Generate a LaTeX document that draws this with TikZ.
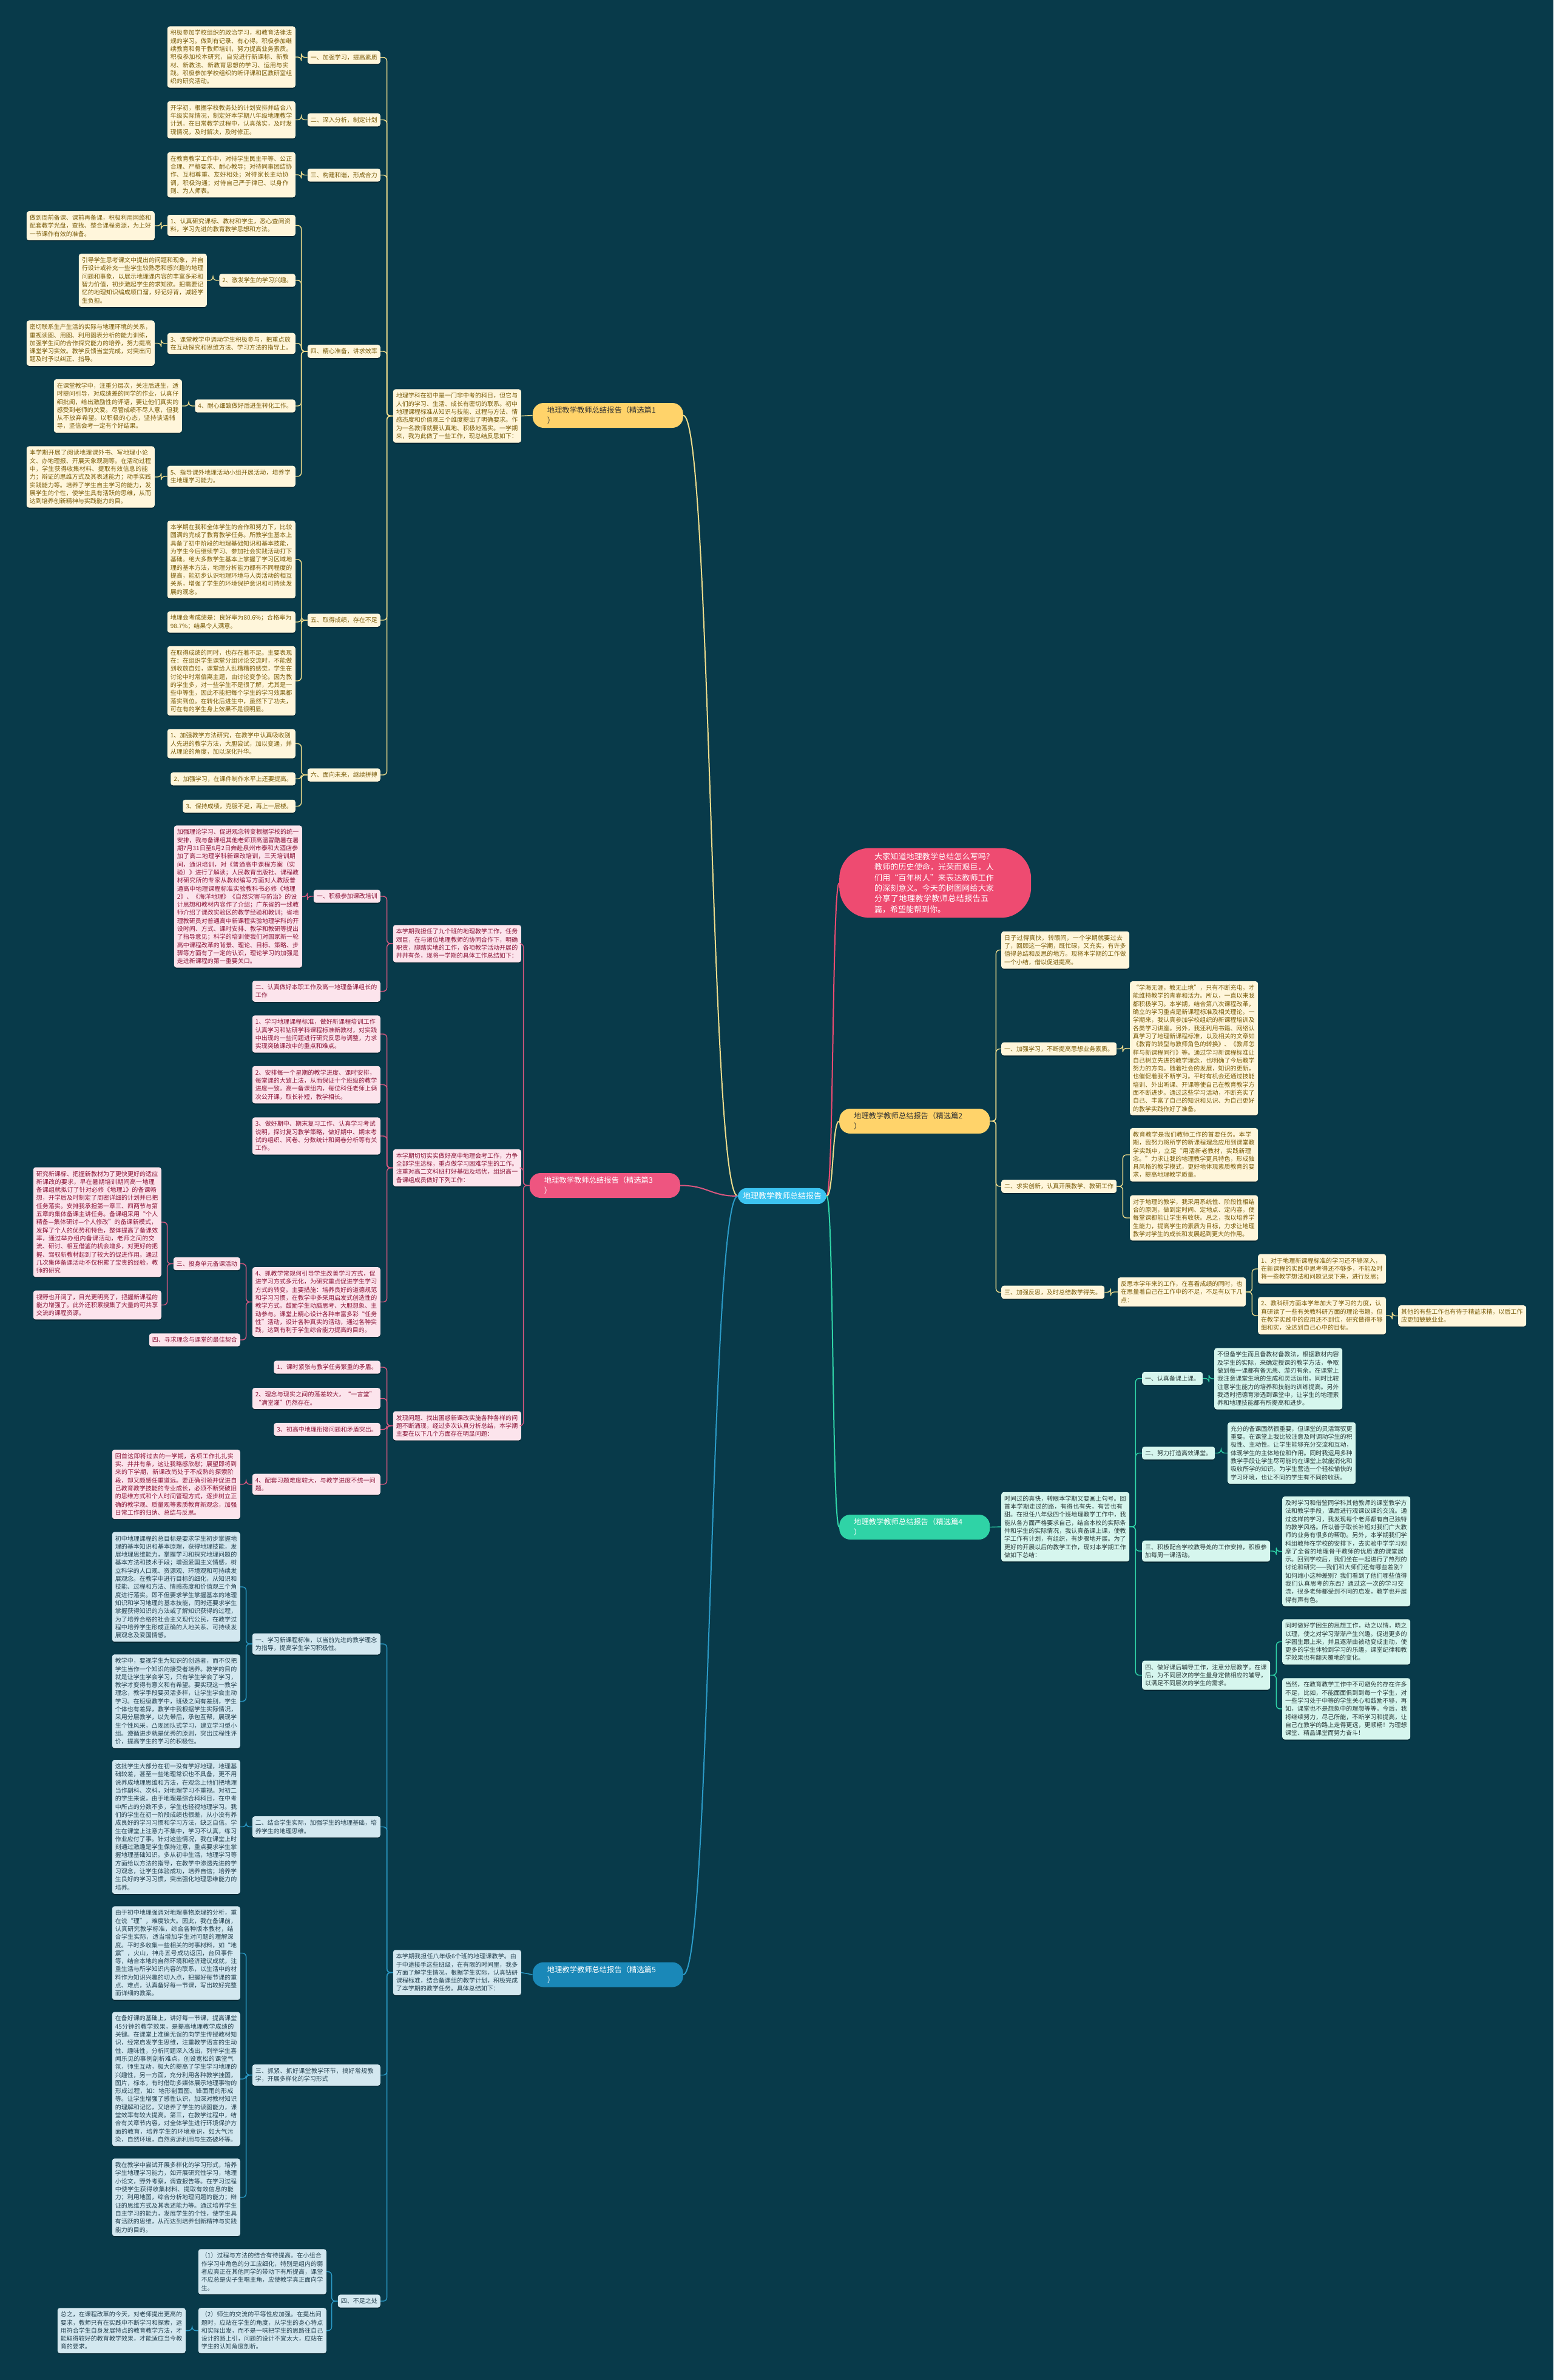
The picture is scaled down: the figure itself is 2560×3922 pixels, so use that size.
\documentclass[tikz,border=0pt]{standalone}
\usepackage{fontspec}
\setmainfont{Noto Sans CJK SC}
\usetikzlibrary{shadows}
\XeTeXlinebreaklocale "zh"
\XeTeXlinebreakskip=0pt plus 1pt
\definecolor{bgc}{HTML}{083A4A}
\definecolor{ycream}{HTML}{FFF6DB}
\definecolor{ytext}{HTML}{7A5C0A}
\definecolor{yline}{HTML}{EEDC8C}
\definecolor{pcream}{HTML}{FCE4EC}
\definecolor{ptext}{HTML}{8B1538}
\definecolor{pline}{HTML}{D9577F}
\definecolor{bcream}{HTML}{D3E8F0}
\definecolor{btext}{HTML}{24404F}
\definecolor{bline}{HTML}{2B9BC8}
\definecolor{gcream}{HTML}{D6F6EE}
\definecolor{gtext}{HTML}{2B3B3B}
\definecolor{gline}{HTML}{30D5A8}
\definecolor{byel}{HTML}{FFD36A}
\definecolor{bpink}{HTML}{EE5580}
\definecolor{bgreen}{HTML}{2FD3A6}
\definecolor{bblue}{HTML}{1A88B8}
\definecolor{bcen}{HTML}{3CC3F0}
\definecolor{bred}{HTML}{EE4B71}
\newcommand{\fsA}{\fontsize{10}{13.3}\selectfont}
\newcommand{\fsB}{\fontsize{12.3}{17.3}\selectfont}
\newcommand{\fsC}{\fontsize{13}{17.3}\selectfont}
\newcommand{\lconn}[3]{\draw[#1] (#2.west) -- ++(-10,0) |- (#3.east);}
\newcommand{\rconn}[3]{\draw[#1] (#2.east) -- ++(10,0) |- (#3.west);}
\tikzset{
 base/.style={rounded corners=4pt, inner xsep=5pt, inner ysep=6pt, align=left, font=\fsA,
   drop shadow={shadow xshift=0pt, shadow yshift=-1.5pt, opacity=0.35, fill=black}},
 yb/.style={base, fill=ycream, text=ytext},
 pb/.style={base, fill=pcream, text=ptext},
 gb/.style={base, fill=gcream, text=gtext},
 bb/.style={base, fill=bcream, text=btext},
 tw/.style={text width=201pt},
 bra/.style={rounded corners=18pt, inner xsep=24pt, inner ysep=6pt, align=left, font=\fsB, text width=200pt},
 ycon/.style={draw=yline, line width=1.4pt, rounded corners=6pt},
 pcon/.style={draw=pline, line width=1.4pt, rounded corners=6pt},
 bcon/.style={draw=bline, line width=1.4pt, rounded corners=6pt},
 gcon/.style={draw=gline, line width=1.4pt, rounded corners=6pt},
 mcurve/.style={line width=2pt},
}
\begin{document}
\begin{tikzpicture}[x=1pt,y=-1pt]
\fill[bgc] (0,0) rectangle (2560,3922);
\useasboundingbox (0,0) rectangle (2560,3922);

% ---------- center ----------
\node[fill=bcen, text=white, rounded corners=14pt, inner xsep=8pt, inner ysep=7pt, font=\fsC] (c) at (1289,1971) {地理教学教师总结报告};

% ---------- intro pill ----------
\node[fill=bred, text=white, rounded corners=50pt, inner xsep=58pt, inner ysep=8pt, font=\fsC, text width=200pt, align=left, anchor=west] (intro) at (1383,1455) {大家知道地理教学总结怎么写吗？教师的历史使命，光荣而艰巨，人们用“百年树人”来表达教师工作的深刻意义。今天的树图网给大家分享了地理教学教师总结报告五篇，希望能帮到你。};

% ---------- branch nodes ----------
\node[bra, fill=byel, text=black!80, anchor=east] (b1) at (1126,684.5) {地理教学教师总结报告（精选篇1\\）};
\node[bra, fill=byel, text=black!80, anchor=west] (b2) at (1383,1847.5) {地理教学教师总结报告（精选篇2\\）};
\node[bra, fill=bpink, text=white, anchor=east] (b3) at (1121,1953.5) {地理教学教师总结报告（精选篇3\\）};
\node[bra, fill=bgreen, text=white, anchor=west] (b4) at (1383,2516.5) {地理教学教师总结报告（精选篇4\\）};
\node[bra, fill=bblue, text=white, anchor=east] (b5) at (1126,3254) {地理教学教师总结报告（精选篇5\\）};

\draw[mcurve, draw=yline] (b1.east) .. controls +(46,0) and +(-46,0) .. (c.west);
\draw[mcurve, draw=pline] (b3.east) .. controls +(46,0) and +(-46,0) .. (c.west);
\draw[mcurve, draw=bline] (b5.east) .. controls +(46,0) and +(-46,0) .. (c.west);
\draw[mcurve, draw=bred] (c.east) .. controls +(12,0) and +(-12,0) .. (intro.west);
\draw[mcurve, draw=yline] (c.east) .. controls +(12,0) and +(-12,0) .. (b2.west);
\draw[mcurve, draw=gline] (c.east) .. controls +(12,0) and +(-12,0) .. (b4.west);

% =============== Section 1 ===============
\node[yb,tw,anchor=east] (s1i) at (859,685.5) {地理学科在初中是一门非中考的科目，但它与人们的学习、生活、成长有密切的联系。初中地理课程标准从知识与技能、过程与方法、情感态度和价值观三个维度提出了明确要求。作为一名教师就要认真地、积极地落实。一学期来，我为此做了一些工作，现总结反思如下：};
\draw[ycon] (b1.west) -- (s1i.east);

\node[yb,anchor=east] (h1) at (627,94.5) {一、加强学习，提高素质};
\node[yb,anchor=east] (h2) at (627,197.5) {二、深入分析，制定计划};
\node[yb,anchor=east] (h3) at (627,288.5) {三、构建和谐，形成合力};
\node[yb,anchor=east] (h4) at (627,579) {四、精心准备，讲求效率};
\node[yb,anchor=east] (h5) at (627,1022) {五、取得成绩，存在不足};
\node[yb,anchor=east] (h6) at (627,1277) {六、面向未来，继续拼搏};
\foreach \n in {h1,h2,h3,h4,h5,h6} {\lconn{ycon}{s1i}{\n}}

\node[yb,tw,anchor=east] (t1) at (487,94) {积极参加学校组织的政治学习，和教育法律法规的学习。做到有记录、有心得。积极参加继续教育和骨干教师培训，努力提高业务素质。积极参加校本研究，自觉进行新课标、新教材、新教法、新教育思想的学习、运用与实践。积极参加学校组织的听评课和区教研室组织的研究活动。};
\node[yb,tw,anchor=east] (t2) at (487,197.5) {开学初，根据学校教务处的计划安排并结合八年级实际情况，制定好本学期八年级地理教学计划。在日常教学过程中，认真落实，及时发现情况，及时解决，及时修正。};
\node[yb,tw,anchor=east] (t3) at (487,288) {在教育教学工作中，对待学生民主平等、公正合理、严格要求、耐心教导；对待同事团结协作、互相尊重、友好相处；对待家长主动协调，积极沟通；对待自己严于律已、以身作则、为人师表。};
\lconn{ycon}{h1}{t1}
\lconn{ycon}{h2}{t2}
\lconn{ycon}{h3}{t3}

\node[yb,tw,anchor=east] (s41) at (487,371.5) {1、认真研究课标、教材和学生，悉心查阅资料，学习先进的教育教学思想和方法。};
\node[yb,anchor=east] (s42) at (487,462) {2、激发学生的学习兴趣。};
\node[yb,tw,anchor=east] (s43) at (487,566) {3、课堂教学中调动学生积极参与，把重点放在互动探究和思维方法、学习方法的指导上。};
\node[yb,anchor=east] (s44) at (487,669) {4、耐心细致做好后进生转化工作。};
\node[yb,tw,anchor=east] (s45) at (487,785) {5、指导课外地理活动小组开展活动，培养学生地理学习能力。};
\foreach \n in {s41,s42,s43,s44,s45} {\lconn{ycon}{h4}{\n}}

\node[yb,tw,anchor=east] (c41) at (255,372) {做到周前备课、课前再备课，积极利用网络和配套教学光盘，查找、整合课程资源，为上好一节课作有效的准备。};
\node[yb,tw,anchor=east] (c42) at (341,462) {引导学生思考课文中提出的问题和现象，并自行设计或补充一些学生较熟悉和感兴趣的地理问题和事象，以展示地理课内容的丰富多彩和智力价值，初步激起学生的求知欲。把需要记忆的地理知识编成顺口溜，好记好背，减轻学生负担。};
\node[yb,tw,anchor=east] (c43) at (255,565.5) {密切联系生产生活的实际与地理环境的关系，重视读图、用图、利用图表分析的能力训练，加强学生间的合作探究能力的培养，努力提高课堂学习实效。教学反馈当堂完成，对突出问题及时予以纠正、指导。};
\node[yb,tw,anchor=east] (c44) at (300,669) {在课堂教学中，注重分层次，关注后进生，适时提问引导，对成绩差的同学的作业，认真仔细批阅，给出激励性的评语，要让他们真实的感受到老师的关爱。尽管成绩不尽人意，但我从不放弃希望。以积极的心态，坚持谈话辅导，坚信会考一定有个好结果。};
\node[yb,tw,anchor=east] (c45) at (255,786) {本学期开展了阅读地理课外书、写地理小论文、办地理报、开展天象观测等。在活动过程中，学生获得收集材料、提取有效信息的能力；辩证的思维方式及其表述能力；动手实践实践能力等。培养了学生自主学习的能力，发展学生的个性，使学生具有活跃的思维，从而达到培养创新精神与实践能力的目。};
\lconn{ycon}{s41}{c41}
\lconn{ycon}{s42}{c42}
\lconn{ycon}{s43}{c43}
\lconn{ycon}{s44}{c44}
\lconn{ycon}{s45}{c45}

\node[yb,tw,anchor=east] (r51) at (487,922) {本学期在我和全体学生的合作和努力下，比较圆满的完成了教育教学任务。所教学生基本上具备了初中阶段的地理基础知识和基本技能，为学生今后继续学习、参加社会实践活动打下基础。绝大多数学生基本上掌握了学习区域地理的基本方法，地理分析能力都有不同程度的提高，能初步认识地理环境与人类活动的相互关系，增强了学生的环境保护意识和可持续发展的观念。};
\node[yb,tw,anchor=east] (r52) at (487,1025) {地理会考成绩是：良好率为80.6\%；合格率为98.7\%；结果令人满意。};
\node[yb,tw,anchor=east] (r53) at (487,1122) {在取得成绩的同时，也存在着不足。主要表现在：在组织学生课堂分组讨论交流时，不能做到收放自如，课堂给人乱糟糟的感觉，学生在讨论中时常偏离主题，由讨论变争论。因为教的学生多，对一些学生不是很了解，尤其是一些中等生，因此不能把每个学生的学习效果都落实到位。在转化后进生中，虽然下了功夫，可在有的学生身上效果不是很明显。};
\foreach \n in {r51,r52,r53} {\lconn{ycon}{h5}{\n}}

\node[yb,tw,anchor=east] (r61) at (487,1225.5) {1、加强教学方法研究，在教学中认真吸收别人先进的教学方法，大胆尝试，加以变通，并从理论的角度，加以深化升华。};
\node[yb,anchor=east] (r62) at (487,1283.5) {2、加强学习，在课件制作水平上还要提高。};
\node[yb,anchor=east] (r63) at (487,1328.5) {3、保持成绩，克服不足，再上一层楼。};
\foreach \n in {r61,r62,r63} {\lconn{ycon}{h6}{\n}}

% =============== Section 3 ===============
\node[pb,tw,anchor=east] (p3a) at (859,1555) {本学期我担任了九个班的地理教学工作，任务艰巨，在与诸位地理教师的协同合作下，明确职责，脚踏实地的工作，各项教学活动开展的井井有条，现将一学期的具体工作总结如下：};
\node[pb,tw,anchor=east] (p3b) at (859,1924.5) {本学期切切实实做好高中地理会考工作，力争全部学生达标，重点做学习困难学生的工作。注重对高二文科班打好基础及培优，组织高一备课组成员做好下列工作：};
\node[pb,tw,anchor=east] (p3c) at (859,2349.5) {发现问题、找出困惑新课改实施各种各样的问题不断涌现，经过多次认真分析总结，本学期主要在以下几个方面存在明显问题：};
\foreach \n in {p3a,p3b,p3c} {\lconn{pcon}{b3}{\n}}

\node[pb,anchor=east] (q1) at (627,1477) {一、积极参加课改培训};
\node[pb,tw,anchor=east] (q2) at (627,1633.5) {二、认真做好本职工作及高一地理备课组长的工作};
\lconn{pcon}{p3a}{q1}
\lconn{pcon}{p3a}{q2}
\node[pb,tw,anchor=east] (q1c) at (498,1477.5) {加强理论学习、促进观念转变根据学校的统一安排，我与备课组其他老师顶高温冒酷暑在暑期7月31日至8月2日奔赴泉州市泰和大酒店参加了高二地理学科新课改培训，三天培训期间，通识培训，对《普通高中课程方案（实验）》进行了解读；人民教育出版社、课程教材研究所的专家从教材编写方面对人教版普通高中地理课程标准实验教科书必修《地理2》、《海洋地理》《自然灾害与防治》的设计思想和教材内容作了介绍；广东省的一线教师介绍了课改实验区的教学经验和教训；省地理教研员对普通高中新课程实验地理学科的开设时间、方式、课时安排、教学和教研等提出了指导意见；科学的培训使我们对国家新一轮高中课程改革的背景、理论、目标、策略、步骤等方面有了一定的认识，理论学习的加强是走进新课程的第一重要关口。};
\lconn{pcon}{q1}{q1c}

\node[pb,tw,anchor=east] (w1) at (627,1704) {1、学习地理课程标准，做好新课程培训工作认真学习和钻研学科课程标准新教材，对实践中出现的一些问题进行研究反思与调整，力求实现突破课改中的重点和难点。};
\node[pb,tw,anchor=east] (w2) at (627,1787.5) {2、安排每一个星期的教学进度、课时安排，每堂课的大致上法，从而保证十个班级的教学进度一致。高一备课组内，每位科任老师上俩次公开课，取长补短，教学相长。};
\node[pb,tw,anchor=east] (w3) at (627,1872) {3、做好期中、期末复习工作、认真学习考试说明，探讨复习教学策略，做好期中、期末考试的组织、阅卷、分数统计和阅卷分析等有关工作。};
\node[pb,tw,anchor=east] (w4) at (627,2145.5) {4、抓教学常规何引导学生改善学习方式，促进学习方式多元化，为研究重点促进学生学习方式的转变。主要措施：培养良好的道德规范和学习习惯，在教学中多采用启发式创造性的教学方式。鼓励学生动脑思考、大胆想象、主动参与。课堂上精心设计各种丰富多彩“任务性”活动，设计各种真实的活动，通过各种实践，达到有利于学生综合能力提高的目的。};
\foreach \n in {w1,w2,w3,w4} {\lconn{pcon}{p3b}{\n}}

\node[pb,anchor=east] (w4a) at (396,2082.5) {三、投身单元备课活动};
\node[pb,anchor=east] (w4b) at (396,2208) {四、寻求理念与课堂的最佳契合};
\lconn{pcon}{w4}{w4a}
\lconn{pcon}{w4}{w4b}
\node[pb,tw,anchor=east] (ya) at (266,2014) {研究新课标、把握新教材为了更快更好的适应新课改的要求，早在暑期培训期间高一地理备课组就拟订了针对必修《地理1》的备课畅想，开学后及时制定了周密详细的计划并已把任务落实。安排我承担第一章三、四两节与第五章的集体备课主讲任务。备课组采用“个人精备—集体研讨—个人修改”的备课新模式，发挥了个人的优势和特色，整体提高了备课效率，通过举办组内备课活动，老师之间的交流、研讨、相互借鉴的机会增多，对更好的把握、驾驭新教材起到了较大的促进作用。通过几次集体备课活动不仅积累了宝贵的经验，教师的研究};
\node[pb,tw,anchor=east] (yb2) at (266,2150.5) {视野也开阔了，目光更明亮了，把握新课程的能力增强了。此外还积累搜集了大量的可共享交流的课程资源。};
\lconn{pcon}{w4a}{ya}
\lconn{pcon}{w4a}{yb2}

\node[pb,anchor=east] (v1) at (627,2253) {1、课时紧张与教学任务繁重的矛盾。};
\node[pb,tw,anchor=east] (v2) at (627,2304.5) {2、理念与现实之间的落差较大，“一言堂”“满堂灌”仍然存在。};
\node[pb,anchor=east] (v3) at (627,2355.5) {3、初高中地理衔接问题和矛盾突出。};
\node[pb,tw,anchor=east] (v4) at (627,2446) {4、配套习题难度较大，与教学进度不统一问题。};
\foreach \n in {v1,v2,v3,v4} {\lconn{pcon}{p3c}{\n}}
\node[pb,tw,anchor=east] (v4c) at (396,2446) {回首这即将过去的一学期，各项工作扎扎实实、井井有条，这让我略感欣慰；展望即将到来的下学期，新课改尚处于不成熟的探索阶段，却又颇感任重道远。要正确引领并促进自己教育教学技能的专业成长，必须不断突破旧的思维方式和个人时间管理方式，逐步树立正确的教学观、质量观等素质教育新观念，加强日常工作的归纳、总结与反思。};
\lconn{pcon}{v4}{v4c}

% =============== Section 5 ===============
\node[bb,tw,anchor=east] (p5) at (859,3250.5) {本学期我担任八年级6个班的地理课教学。由于中途接手这些班级，在有限的时间里，我多方面了解学生情况，根据学生实际，认真钻研课程标准，结合备课组的教学计划，积极完成了本学期的教学任务。具体总结如下：};
\draw[bcon] (b5.west) -- (p5.east);

\node[bb,tw,anchor=east] (f1) at (627,2709) {一、学习新课程标准，以当前先进的教学理念为指导，提高学生学习积极性。};
\node[bb,tw,anchor=east] (f2) at (627,3010.5) {二、结合学生实际，加强学生的地理基础，培养学生的地理思维。};
\node[bb,tw,anchor=east] (f3) at (627,3419.5) {三、抓紧、抓好课堂教学环节，搞好常规教学，开展多样化的学习形式};
\node[bb,anchor=east] (f4) at (627,3792) {四、不足之处};
\foreach \n in {f1,f2,f3,f4} {\lconn{bcon}{p5}{\n}}

\node[bb,tw,anchor=east] (f1a) at (396,2615) {初中地理课程的总目标是要求学生初步掌握地理的基本知识和基本原理，获得地理技能，发展地理思维能力，掌握学习和探究地理问题的基本方法和技术手段；增强爱国主义情感，树立科学的人口观、资源观、环境观和可持续发展观念。在教学中进行目标的细化，从知识和技能、过程和方法、情感态度和价值观三个角度进行落实。即不但要求学生掌握基本的地理知识和学习地理的基本技能，同时还要求学生掌握获得知识的方法或了解知识获得的过程，为了培养合格的社会主义现代公民，在教学过程中培养学生形成正确的人地关系、可持续发展观念及爱国情感。};
\node[bb,tw,anchor=east] (f1b) at (396,2803.5) {教学中，要视学生为知识的创造者，而不仅把学生当作一个知识的接受者培养。教学的目的就是让学生学会学习，只有学生学会了学习，教学才变得有意义和有希望。要实现这一教学理念，教学手段要灵活多样，让学生学会主动学习。在班级教学中，班级之间有差别，学生个体也有差异，教学中我根据学生实际情况，采用分层教学，以先带后，承包互帮，展现学生个性风采，凸现团队式学习，建立学习型小组。遵循进步就是优秀的原则，突出过程性评价，提高学生的学习的积极性。};
\lconn{bcon}{f1}{f1a}
\lconn{bcon}{f1}{f1b}
\node[bb,tw,anchor=east] (f2a) at (396,3010.5) {这批学生大部分在初一没有学好地理，地理基础较差，甚至一些地理常识也不具备，更不用说养成地理思维和方法，在观念上他们把地理当作副科、次科，对地理学习不重视。对初二的学生来说，由于地理是综合科科目，在中考中所占的分数不多，学生也轻视地理学习。我们的学生在初一阶段成绩也很差，从小没有养成良好的学习习惯和学习方法，缺乏自信。学生在课堂上注意力不集中，学习不认真，练习作业应付了事。针对这些情况，我在课堂上时刻通过激趣是学生保持注意，重点要求学生掌握地理基础知识。多从初中生活，地理学习等方面给以方法的指导，在教学中渗透先进的学习观念，让学生体验成功，培养自信；培养学生良好的学习习惯，突出强化地理思维能力的培养。};
\lconn{bcon}{f2}{f2a}
\node[bb,tw,anchor=east] (f3a) at (396,3218.5) {由于初中地理强调对地理事物原理的分析，重在说“理”，难度较大。因此，我在备课前，认真研究教学标准，综合各种版本教材，结合学生实际，适当增加学生对问题的理解深度。平时多收集一些相关的时事材料，如“地震”，火山，神舟五号成功返回，台风事件等，结合本地的自然环境和经济建议成就，注重生活与所学知识内容的联系，以生活中的材料作为知识兴趣的切入点，把握好每节课的重点、难点，认真备好每一节课，写出较好完整而详细的教案。};
\node[bb,tw,anchor=east] (f3b) at (396,3426) {在备好课的基础上，讲好每一节课，提高课堂45分钟的教学效果，是提高地理教学成绩的关键。在课堂上准确无误的向学生传授教材知识，经常启发学生思维，注重教学语言的生动性、趣味性，分析问题深入浅出，列举学生喜闻乐见的事例剖析难点，创设宽松的课堂气氛，师生互动，极大的提高了学生学习地理的兴趣性，另一方面，充分利用各种教学挂图，图片，标本，有时借助多媒体展示地理事物的形成过程，如：地形剖面图、锋面雨的形成等。让学生增强了感性认识，加深对教材知识的理解和记忆，又培养了学生的读图能力，课堂效率有较大提高。第三，在教学过程中，结合有关章节内容，对全体学生进行环境保护方面的教育，培养学生的环境意识，如大气污染，自然环境，自然资源利用与生态破坏等。};
\node[bb,tw,anchor=east] (f3c) at (396,3621) {我在教学中尝试开展多样化的学习形式，培养学生地理学习能力，如开展研究性学习，地理小论文，野外考察，调查报告等。在学习过程中使学生获得收集材料、提取有效信息的能力；利用地图，综合分析地理问题的能力；辩证的思维方式及其表述能力等。通过培养学生自主学习的能力，发展学生的个性，使学生具有活跃的思维，从而达到培养创新精神与实践能力的目的。};
\foreach \n in {f3a,f3b,f3c} {\lconn{bcon}{f3}{\n}}
\node[bb,tw,anchor=east] (f4a) at (538,3743.5) {（1）过程与方法的结合有待提高。在小组合作学习中角色的分工应细化，特别是组内的弱者应真正在其他同学的带动下有所提高，课堂不应总是尖子生唱主角，应使教学真正面向学生。};
\node[bb,tw,anchor=east] (f4b) at (538,3840.5) {（2）师生的交流的平等性应加强。在提出问题时，应站在学生的角度，从学生的身心特点和实际出发，而不是一味把学生的思路往自己设计的路上引，问题的设计不宜太大，应站在学生的认知角度剖析。};
\lconn{bcon}{f4}{f4a}
\lconn{bcon}{f4}{f4b}
\node[bb,tw,anchor=east] (f4c) at (306,3840.5) {总之，在课程改革的今天，对老师提出更高的要求，教师只有在实践中不断学习和探索，运用符合学生自身发展特点的教育教学方法，才能取得较好的教育教学效果，才能适应当今教育的要求。};
\lconn{bcon}{f4b}{f4c}

% =============== Section 2 ===============
\node[yb,tw,anchor=west] (g0) at (1650,1565.5) {日子过得真快，转眼间，一个学期就要过去了，回顾这一学期，既忙碌，又充实，有许多值得总结和反思的地方。现将本学期的工作做一个小结，借以促进提高。};
\node[yb,anchor=west] (g1) at (1650,1728.5) {一、加强学习，不断提高思想业务素质。};
\node[yb,anchor=west] (g2) at (1650,1955) {二、求实创新，认真开展教学、教研工作};
\node[yb,anchor=west] (g3) at (1650,2129.5) {三、加强反思，及时总结教学得失。};
\foreach \n in {g0,g1,g2,g3} {\rconn{ycon}{b2}{\n}}
\node[yb,tw,anchor=west] (g1c) at (1862,1727.5) {“学海无涯，教无止境”，只有不断充电，才能维持教学的青春和活力。所以，一直以来我都积极学习。本学期，结合第八次课程改革，确立的学习重点是新课程标准及相关理论。一学期来，我认真参加学校组织的新课程培训及各类学习讲座。另外，我还利用书籍、网络认真学习了地理新课程标准，以及相关的文章如《教育的转型与教师角色的转换》、《教师怎样与新课程同行》等。通过学习新课程标准让自己树立先进的教学理念，也明确了今后教学努力的方向。随着社会的发展，知识的更新，也催促着我不断学习。平时有机会还通过技能培训、外出听课、开课等使自己在教育教学方面不断进步。通过这些学习活动，不断充实了自己、丰富了自己的知识和见识、为自己更好的教学实践作好了准备。};
\rconn{ycon}{g1}{g1c}
\node[yb,tw,anchor=west] (g2a) at (1862,1903) {教育教学是我们教师工作的首要任务。本学期，我努力将所学的新课程理念应用到课堂教学实践中，立足“用活新老教材，实践新理念。”力求让我的地理教学更具特色，形成独具风格的教学模式，更好地体现素质教育的要求，提高地理教学质量。};
\node[yb,tw,anchor=west] (g2b) at (1862,2007) {对于地理的教学，我采用系统性、阶段性相结合的原则，做到定时间、定地点、定内容，使每堂课都能让学生有收获。总之，我以培养学生能力，提高学生的素质为目标，力求让地理教学对学生的成长和发展起到更大的作用。};
\rconn{ycon}{g2}{g2a}
\rconn{ycon}{g2}{g2b}
\node[yb,tw,anchor=west] (g3c) at (1842,2129) {反思本学年来的工作，在喜看成绩的同时，也在思量着自己在工作中的不足，不足有以下几点：};
\rconn{ycon}{g3}{g3c}
\node[yb,tw,anchor=west] (g3d) at (2073,2091) {1、对于地理新课程标准的学习还不够深入，在新课程的实践中思考得还不够多，不能及时将一些教学想法和问题记录下来，进行反思；};
\node[yb,tw,anchor=west] (g3e) at (2073,2168) {2、教科研方面本学年加大了学习的力度，认真研读了一些有关教科研方面的理论书籍，但在教学实践中的应用还不到位，研究做得不够细和实，没达到自己心中的目标。};
\rconn{ycon}{g3c}{g3d}
\rconn{ycon}{g3c}{g3e}
\node[yb,tw,anchor=west] (g3f) at (2304,2168.5) {其他的有些工作也有待于精益求精，以后工作应更加兢兢业业。};
\rconn{ycon}{g3e}{g3f}

% =============== Section 4 ===============
\node[gb,tw,anchor=west] (k0) at (1650,2516) {时间过的真快，转眼本学期又要画上句号。回首本学期走过的路，有得也有失，有苦也有甜。在担任八年级四个班地理教学工作中，我能从各方面严格要求自己，结合本校的实际条件和学生的实际情况，我认真备课上课，使教学工作有计划，有组织，有步骤地开展。为了更好的开展以后的教学工作，现对本学期工作做如下总结：};
\draw[gcon] (b4.east) -- (k0.west);
\node[gb,anchor=west] (k1) at (1882,2271.5) {一、认真备课上课。};
\node[gb,anchor=west] (k2) at (1882,2394.5) {二、努力打造高效课堂。};
\node[gb,tw,anchor=west] (k3) at (1882,2556) {三、积极配合学校教导处的工作安排，积极参加每周一课活动。};
\node[gb,tw,anchor=west] (k4) at (1882,2760.5) {四、做好课后辅导工作，注意分层教学。在课后，为不同层次的学生量身定做相应的辅导，以满足不同层次的学生的需求。};
\foreach \n in {k1,k2,k3,k4} {\rconn{gcon}{k0}{\n}}
\node[gb,tw,anchor=west] (k1c) at (2001,2272) {不但备学生而且备教材备教法，根据教材内容及学生的实际，来确定授课的教学方法，争取做到每一课都有备无患、游刃有余。在课堂上我注意课堂生境的生成和灵活运用，同时比较注意学生能力的培养和技能的训练提高。另外我适时把德育渗透到课堂中，让学生的地理素养和地理技能都有所提高和进步。};
\node[gb,tw,anchor=west] (k2c) at (2023,2394.5) {充分的备课固然很重要，但课堂的灵活驾驭更重要。在课堂上我比较注意及时调动学生的积极性、主动性。让学生能够充分交流和互动，体现学生的主体地位和作用。同时我运用多种教学手段让学生尽可能的在课堂上就能消化和吸收所学的知识。为学生营造一个轻松愉快的学习环境，也让不同的学生有不同的收获。};
\node[gb,tw,anchor=west] (k3c) at (2113,2556.5) {及时学习和借鉴同学科其他教师的课堂教学方法和教学手段，课后进行观课议课的交流。通过这样的学习，我发现每个老师都有自己独特的教学风格。所以善于取长补短对我们广大教师的业务有很多的帮助。另外，本学期我们学科组教师在学校的安排下，去实验中学学习观摩了全省的地理骨干教师的优质课的课堂展示。回到学校后，我们坐在一起进行了热烈的讨论和研究——我们和大师们还有哪些差别？如何缩小这种差别？我们看到了他们哪些值得我们认真思考的东西？通过这一次的学习交流，很多老师都受到不同的启发，教学也开展得有声有色。};
\rconn{gcon}{k1}{k1c}
\rconn{gcon}{k2}{k2c}
\rconn{gcon}{k3}{k3c}
\node[gb,tw,anchor=west] (k4a) at (2113,2705.5) {同时做好学困生的思想工作，动之以情，晓之以理，使之对学习渐渐产生兴趣。促进更多的学困生跟上来，并且逐渐由被动变成主动，使更多的学生体验到学习的乐趣，课堂纪律和教学效果也有翻天覆地的变化。};
\node[gb,tw,anchor=west] (k4b) at (2113,2816) {当然，在教育教学工作中不可避免的存在许多不足，比如，不能面面俱到到每一个学生，对一些学习处于中等的学生关心和鼓励不够，再如，课堂也不是想象中的理想等等。今后，我将继续努力，尽己所能，不断学习和提高，让自己在教学的路上走得更远，更顺畅！为理想课堂、精品课堂而努力奋斗！};
\rconn{gcon}{k4}{k4a}
\rconn{gcon}{k4}{k4b}
\end{tikzpicture}
\end{document}
